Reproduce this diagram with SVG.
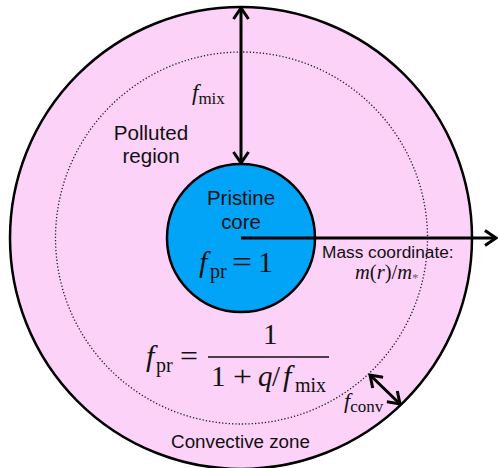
<svg xmlns="http://www.w3.org/2000/svg" width="498" height="468" viewBox="0 0 498 468">
<defs>
<style>
.lbl{font-family:"Liberation Sans",Arial,sans-serif;fill:#111}
.m{font-family:"Liberation Serif","Times New Roman",serif;fill:#111}
.it{font-style:italic}
.conn{stroke:#000;stroke-width:3;fill:none}
</style>
<marker id="ah" markerUnits="userSpaceOnUse" viewBox="0 0 14 18" refX="12.5" refY="9" markerWidth="14" markerHeight="18" orient="auto-start-reverse">
<path d="M1.5,1.5 L12.5,9 L1.5,16.5" fill="none" stroke="#000" stroke-width="3"/>
</marker>
</defs>
<rect width="498" height="468" fill="#fff"/>
<g id="star">
<circle cx="241" cy="238" r="231" fill="#FCD2F8" stroke="#000" stroke-width="2.5"/>
</g>
<g id="polluted-region">
<circle cx="241.5" cy="238" r="186" fill="none" stroke="#222" stroke-width="1.3" stroke-dasharray="1.3 2"/>
<text class="lbl" x="151" y="140" font-size="20.6" text-anchor="middle">Polluted</text>
<text class="lbl" x="151" y="163" font-size="20.6" text-anchor="middle">region</text>
</g>
<g id="core">
<circle cx="241" cy="238" r="74" fill="#02A4F7" stroke="#000" stroke-width="2.5"/>
<text class="lbl" x="241" y="205" font-size="20.4" text-anchor="middle">Pristine</text>
<text class="lbl" x="241" y="229" font-size="20.4" text-anchor="middle">core</text>
<text class="m it" x="199" y="272" font-size="30">f</text>
<text class="m" x="210" y="278" font-size="20">pr</text>
<text class="m" x="232" y="272" font-size="29" textLength="20" lengthAdjust="spacingAndGlyphs">=</text>
<text class="m" x="258" y="272" font-size="30">1</text>
</g>
<g id="connectors">
<line class="conn" x1="241" y1="8" x2="241" y2="163" marker-start="url(#ah)" marker-end="url(#ah)"/>
<line class="conn" x1="241" y1="238" x2="496" y2="238" marker-end="url(#ah)"/>
<line class="conn" x1="370" y1="375" x2="400" y2="404" marker-start="url(#ah)" marker-end="url(#ah)"/>
</g>
<g id="labels">
<text class="m" x="192" y="100" font-size="23"><tspan class="it">f</tspan><tspan font-size="17" dy="4">mix</tspan></text>
<text class="lbl" x="322" y="258" font-size="17.3">Mass coordinate:</text>
<text class="m" x="355" y="279" font-size="20.5"><tspan class="it">m</tspan>(<tspan class="it">r</tspan>)/<tspan class="it">m</tspan><tspan font-size="13" dy="3" fill="#666">*</tspan></text>
<text class="m it" x="146" y="366" font-size="30">f</text>
<text class="m" x="156" y="372" font-size="20">pr</text>
<text class="m" x="180" y="366" font-size="29" textLength="18" lengthAdjust="spacingAndGlyphs">=</text>
<line x1="208" y1="357" x2="329" y2="357" stroke="#111" stroke-width="1.5"/>
<text class="m" x="263" y="344" font-size="29">1</text>
<text class="m" x="211" y="386" font-size="29">1</text>
<text class="m" x="233" y="386" font-size="29" textLength="19" lengthAdjust="spacingAndGlyphs">+</text>
<text class="m it" x="258" y="386" font-size="29">q</text>
<text class="m" x="272" y="386" font-size="29">/</text>
<text class="m it" x="283" y="386" font-size="30">f</text>
<text class="m" x="295" y="392" font-size="20">mix</text>
<text class="m" x="344" y="408" font-size="22"><tspan class="it">f</tspan><tspan font-size="17" dy="4">conv</tspan></text>
<text class="lbl" x="240.5" y="448" font-size="18.8" text-anchor="middle">Convective zone</text>
</g>
</svg>
